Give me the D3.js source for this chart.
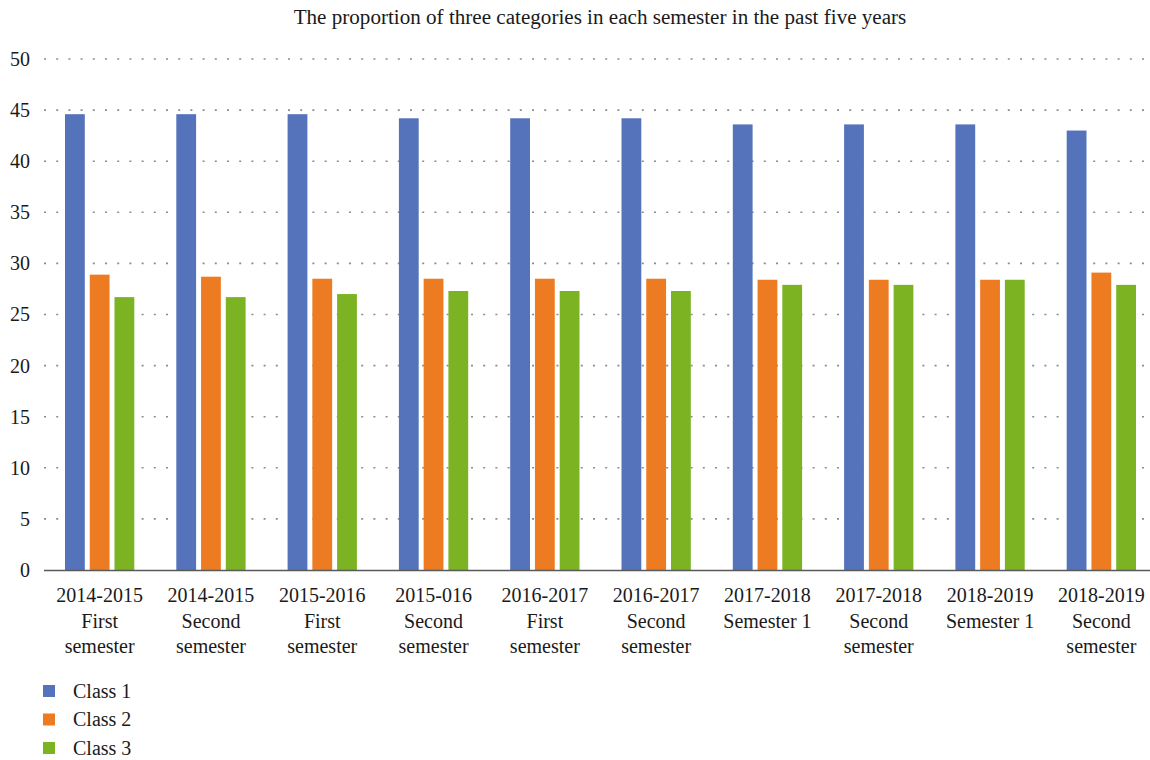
<!DOCTYPE html>
<html>
<head>
<meta charset="utf-8">
<script src="https://cdn.jsdelivr.net/npm/d3@7"></script>
<style>
  html, body { margin: 0; padding: 0; background: #fff; }
  svg { display: block; }
  svg text { font-family: 'Liberation Serif', 'Times New Roman', serif; }
</style>
</head>
<body>
<svg id="chart" width="1150" height="760"></svg>
<script>
// Semester labels (each line of the label is a separate entry)
const semesters = [
  ["2014-2015", "First", "semester"],
  ["2014-2015", "Second", "semester"],
  ["2015-2016", "First", "semester"],
  ["2015-016", "Second", "semester"],
  ["2016-2017", "First", "semester"],
  ["2016-2017", "Second", "semester"],
  ["2017-2018", "Semester 1"],
  ["2017-2018", "Second", "semester"],
  ["2018-2019", "Semester 1"],
  ["2018-2019", "Second", "semester"]
];
const seriesNames = ["Class 1", "Class 2", "Class 3"];
const class1 = [44.6, 44.6, 44.6, 44.2, 44.2, 44.2, 43.6, 43.6, 43.6, 43.0];
const class2 = [28.9, 28.7, 28.5, 28.5, 28.5, 28.5, 28.4, 28.4, 28.4, 29.1];
const class3 = [26.7, 26.7, 27.0, 27.3, 27.3, 27.3, 27.9, 27.9, 28.4, 27.9];
const yTicks = [0, 5, 10, 15, 20, 25, 30, 35, 40, 45, 50];
const colors = ["#5473bb", "#ed7b22", "#7cb323"];
const titleText = "The proportion of three categories in each semester in the past five years";

const series = [class1, class2, class3];
const svg = d3.select("#chart");
const FONT = "'Liberation Serif', 'Times New Roman', serif";
const INK = "#1a1a1a";

const plot = { left: 44, right: 1157, top: 59, bottom: 570 };

const x = d3.scaleBand()
  .domain(d3.range(semesters.length))
  .range([plot.left, plot.right]);

const xInner = d3.scaleBand()
  .domain(d3.range(series.length))
  .range([21, x.bandwidth() - 21])
  .paddingInner(0.2);

const y = d3.scaleLinear().domain([0, 50]).range([plot.bottom, plot.top]);

// Title, sized to span its column
const title = svg.append("text")
  .attr("x", 600).attr("y", 24)
  .attr("text-anchor", "middle")
  .style("font-family", FONT)
  .style("font-size", "20px")
  .attr("fill", INK)
  .text(titleText);
const tw = title.node().getComputedTextLength();
title.style("font-size", (20 * 613 / tw) + "px");

// Dotted horizontal gridlines
svg.append("g")
  .selectAll("line")
  .data(yTicks.filter(d => d > 0))
  .join("line")
  .attr("x1", plot.left).attr("x2", 1150)
  .attr("y1", d => y(d)).attr("y2", d => y(d))
  .attr("stroke", "#8c8c8c")
  .attr("stroke-width", 1.6)
  .attr("stroke-dasharray", "2,10.2");

// Y axis labels
const yAxis = d3.axisLeft(y).tickValues(yTicks).tickSize(0).tickPadding(0);
const yg = svg.append("g").attr("transform", "translate(30,0)").call(yAxis);
yg.attr("font-family", null).attr("font-size", null);
yg.select(".domain").remove();
yg.selectAll("text")
  .style("font-family", FONT)
  .style("font-size", "20px")
  .attr("fill", INK);

// Bars
const groups = svg.append("g")
  .selectAll("g")
  .data(semesters.map((s, i) => i))
  .join("g")
  .attr("transform", i => `translate(${x(i)},0)`);

groups.selectAll("rect")
  .data(i => series.map((vals, k) => ({ k, v: vals[i] })))
  .join("rect")
  .attr("x", d => xInner(d.k))
  .attr("width", xInner.bandwidth())
  .attr("y", d => y(d.v))
  .attr("height", d => y(0) - y(d.v))
  .attr("fill", d => colors[d.k]);

// Baseline
svg.append("line")
  .attr("x1", plot.left).attr("x2", 1150)
  .attr("y1", y(0) + 0.5).attr("y2", y(0) + 0.5)
  .attr("stroke", "#595959")
  .attr("stroke-width", 1.5);

// Category labels
const xAxis = d3.axisBottom(x).tickSize(0).tickFormat(() => "");
const xg = svg.append("g").attr("transform", `translate(0,${plot.bottom})`).call(xAxis);
xg.attr("font-family", null).attr("font-size", null);
xg.select(".domain").remove();
xg.selectAll(".tick").each(function(i) {
  const t = d3.select(this).append("text")
    .attr("text-anchor", "middle")
    .style("font-family", FONT)
    .style("font-size", "20px")
    .attr("fill", INK);
  semesters[i].forEach((line, j) => {
    t.append("tspan").attr("x", 0).attr("y", 32 + j * 25.5).text(line);
  });
});

// Legend
const legend = svg.append("g")
  .selectAll("g")
  .data(seriesNames)
  .join("g")
  .attr("transform", (d, i) => `translate(43,${691 + i * 28.5})`);
legend.append("rect")
  .attr("x", 0).attr("y", -6).attr("width", 12).attr("height", 12)
  .attr("fill", (d, i) => colors[i]);
legend.append("text")
  .attr("x", 30).attr("y", 6.5)
  .style("font-family", FONT)
  .style("font-size", "20px")
  .attr("fill", INK)
  .text(d => d);
</script>
</body>
</html>
